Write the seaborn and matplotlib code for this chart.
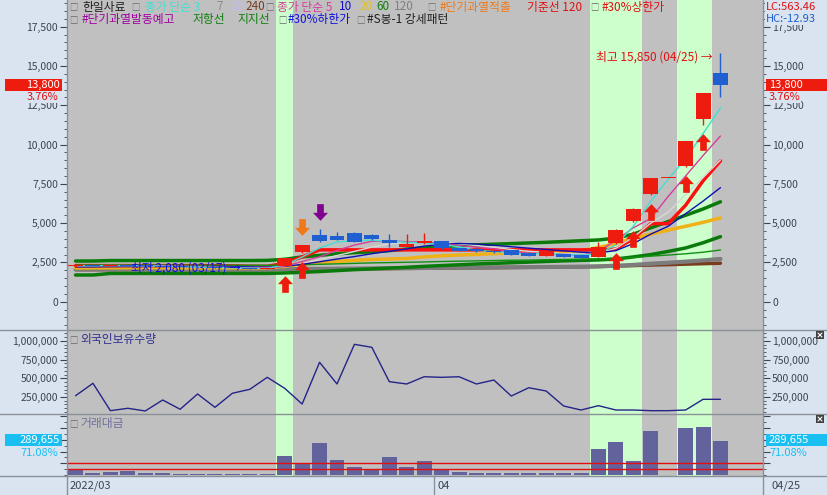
import matplotlib
matplotlib.use("Agg")
import numpy as np
import matplotlib.pyplot as plt
import matplotlib.transforms as mtransforms
from matplotlib.path import Path
from matplotlib.patches import Rectangle
from matplotlib.lines import Line2D
from matplotlib.ticker import MultipleLocator, FixedLocator, FuncFormatter
import seaborn as sns

# ---- data (한일사료, 2022/03 ~ 04/25) ----
opens = [2250, 2310, 2280, 2320, 2290, 2250, 2230, 2200, 2180, 2160, 2140, 2100,
         2270, 3180, 4240, 4180, 4390, 4245, 3930, 3500, 3720, 3860, 3400, 3380,
         3200, 3290, 3120, 2920, 3035, 2970, 2865, 3720, 5150, 6830, 7850, 8650,
         11650, 14550]
highs = [2320, 2330, 2350, 2330, 2300, 2260, 2240, 2210, 2190, 2170, 2150, 2150,
         2780, 3610, 4620, 4420, 4430, 4300, 4300, 4310, 4350, 3880, 3420, 3420,
         3250, 3300, 3150, 3300, 3050, 2980, 3820, 4600, 5950, 7850, 7850, 10200,
         13300, 15850]
lows = [2230, 2260, 2270, 2280, 2240, 2220, 2190, 2170, 2150, 2130, 2080, 2090,
        2250, 3100, 3800, 3900, 3800, 3950, 3450, 3480, 3700, 3380, 3200, 3150,
        3100, 2950, 2900, 2900, 2820, 2780, 2850, 3700, 5100, 6800, 7850, 8600,
        11250, 13050]
closes = [2300, 2280, 2320, 2290, 2250, 2230, 2200, 2180, 2160, 2140, 2100, 2140,
          2780, 3610, 3880, 3930, 3820, 3990, 3720, 3650, 3860, 3400, 3225, 3200,
          3150, 2970, 2910, 3250, 2850, 2800, 3500, 4550, 5910, 7850, 7850, 10200,
          13300, 13800]

ma3 = [2290, 2290, 2300, 2297, 2287, 2257, 2227, 2203, 2180, 2160, 2133, 2127,
       2340, 2843, 3423, 3807, 3877, 3913, 3843, 3787, 3743, 3637, 3495, 3275,
       3190, 3110, 3010, 3120, 3000, 2970, 3050, 3620, 4800, 6400, 7800, 9100,
       10700, 12330]
ma5 = [2290, 2290, 2290, 2290, 2288, 2274, 2258, 2230, 2204, 2182, 2156, 2144,
       2264, 2554, 2862, 3268, 3604, 3846, 3868, 3822, 3808, 3724, 3571, 3467,
       3367, 3189, 3091, 3094, 3016, 2952, 3200, 3900, 4700, 5300, 6700, 8000,
       9300, 10545]
ma7 = [2260, 2260, 2265, 2265, 2262, 2258, 2250, 2240, 2230, 2215, 2200, 2190,
       2240, 2430, 2680, 2940, 3200, 3480, 3680, 3800, 3840, 3770, 3680, 3580,
       3460, 3320, 3210, 3150, 3050, 3000, 3080, 3400, 4100, 5000, 5700, 6800,
       7900, 9020]
ma10 = [2210, 2218, 2230, 2239, 2244, 2247, 2247, 2245, 2241, 2235, 2215, 2201,
        2247, 2379, 2542, 2712, 2874, 3055, 3211, 3362, 3538, 3664, 3709, 3668,
        3595, 3499, 3408, 3324, 3237, 3152, 3116, 3250, 3700, 4300, 4800, 5600,
        6400, 7260]
ma20 = [2150, 2150, 2160, 2160, 2160, 2160, 2150, 2150, 2150, 2150, 2150, 2160,
        2250, 2400, 2480, 2560, 2630, 2690, 2720, 2750, 2850, 2920, 2970, 3010,
        3060, 3100, 3140, 3180, 3210, 3250, 3450, 3700, 4050, 4300, 4560, 4800,
        5050, 5330]
ma60 = [2330, 2330, 2330, 2330, 2330, 2330, 2330, 2320, 2320, 2320, 2320, 2320,
        2330, 2350, 2380, 2410, 2440, 2470, 2490, 2510, 2530, 2560, 2580, 2600,
        2620, 2640, 2650, 2670, 2690, 2700, 2720, 2760, 2820, 2900, 2970, 3050,
        3150, 3290]
ma120 = [2060, 2060, 2060, 2060, 2060, 2060, 2060, 2060, 2060, 2060, 2060, 2060,
         2070, 2080, 2090, 2100, 2110, 2120, 2130, 2140, 2150, 2160, 2170, 2170,
         2180, 2190, 2200, 2210, 2220, 2230, 2250, 2290, 2340, 2420, 2480, 2550,
         2630, 2720]
ma240 = [2040, 2040, 2040, 2040, 2040, 2040, 2040, 2040, 2040, 2040, 2040, 2040,
         2050, 2060, 2070, 2080, 2090, 2100, 2110, 2120, 2130, 2140, 2150, 2160,
         2170, 2180, 2190, 2200, 2210, 2220, 2240, 2270, 2300, 2335, 2360, 2390,
         2420, 2450]
base120 = [2300, 2300, 2300, 2300, 2300, 2300, 2300, 2300, 2300, 2280, 2260, 2250,
           2450, 2850, 3300, 3300, 3300, 3300, 3300, 3300, 3300, 3300, 3300, 3300,
           3300, 3300, 3300, 3300, 3300, 3300, 3300, 3350, 4010, 4965, 4965, 6140,
           7690, 8965]
resist = [2590, 2590, 2620, 2620, 2620, 2620, 2620, 2620, 2620, 2620, 2620, 2630,
          2700, 2850, 2950, 3050, 3120, 3180, 3250, 3350, 3420, 3500, 3570, 3620,
          3660, 3700, 3740, 3780, 3830, 3880, 3930, 4050, 4300, 4700, 5100, 5500,
          5900, 6360]
support = [1700, 1700, 1800, 1800, 1800, 1800, 1800, 1800, 1800, 1800, 1800, 1800,
           1830, 1870, 1920, 1980, 2040, 2090, 2140, 2190, 2250, 2300, 2350, 2400,
           2440, 2480, 2520, 2560, 2600, 2630, 2660, 2720, 2850, 3000, 3200, 3420,
           3750, 4140]

foreign_hold = [267000, 433000, 67000, 99000, 63000, 210000, 86000, 290000, 112000,
                300000, 353000, 513000, 366000, 156000, 714000, 424000, 954000,
                914000, 455000, 424000, 521000, 513000, 521000, 424000, 477000,
                263000, 374000, 330000, 130000, 76000, 134000, 76000, 76000, 67000,
                67000, 76000, 219000, 219000]
trade_value = [43000, 20000, 28000, 37000, 20000, 20000, 9000, 9000, 9000, 9000,
               9000, 9000, 165000, 105000, 275000, 128000, 71000, 54000, 156000,
               71000, 119000, 43000, 28000, 20000, 20000, 20000, 20000, 20000,
               20000, 20000, 222000, 281000, 119000, 375000, 0, 403000, 409000,
               289655]
trade_refs = [105000, 51000]

limit_up_bars = [12, 30, 31, 32, 35, 36]     # #30%상한가 highlight
buy_signal_bars = [12, 13, 31, 32, 33, 35, 36]
overheat_bars = [13]                          # #단기과열적출
overheat_warn_bars = [14]                     # #단기과열발동예고

# ---- style ----
sns.set_style("white")
plt.rcParams['font.family'] = ['Noto Sans CJK KR', 'DejaVu Sans']
plt.rcParams['axes.unicode_minus'] = False

SIDE_BG = '#dae4f0'
PLOT_BG = '#c0c0c0'
HILITE = '#ccffcc'
RED = '#ee1c0e'
BLUE = '#1f5fd0'
TICK = '#3c4450'
LINE = '#8a8f98'

W, H = 827, 495
fig = plt.figure(figsize=(W / 100, H / 100), dpi=100, facecolor=SIDE_BG)


def fx(x):
    return x / W


def fy(y):
    return 1 - y / H


def panel(y0, y1):
    a = fig.add_axes([fx(67), fy(y1), 696 / W, (y1 - y0) / H])
    a.set_facecolor(PLOT_BG)
    for s in a.spines.values():
        s.set_visible(False)
    return a


ax = panel(0, 330)
axf = panel(330, 414)
axv = panel(414, 476)

xs = np.arange(len(closes))
o, h, l, c = map(np.array, (opens, highs, lows, closes))

for a in (ax, axf, axv):
    for i in limit_up_bars:
        a.axvspan(i - 0.5, i + 0.5, color=HILITE, lw=0, zorder=0)

# moving averages / reference lines
lines = [
    (ma240, '#7a3c1c', 2.5), (ma120, '#7c7c7c', 3.0), (support, '#0a7a0a', 2.5),
    (resist, '#0a7a0a', 2.5), (ma20, '#f0b018', 2.5), (base120, '#ff1010', 2.5),
    (ma60, '#109010', 1.0), (ma7, '#d8d8d8', 1.0), (ma10, '#1010b0', 1.0),
    (ma5, '#d83c9c', 1.0), (ma3, '#40e0d0', 1.0),
]
for vals, col, lw in lines:
    sns.lineplot(x=xs, y=vals, color=col, linewidth=lw, ax=ax, zorder=2)

# candles
cols = np.where(c >= o, RED, BLUE)
ax.vlines(xs, l, h, colors=cols, lw=1, zorder=3)
ax.bar(xs, np.maximum(np.abs(c - o), 60), bottom=np.minimum(o, c), width=0.86,
       color=cols, lw=0, zorder=4)

# signal arrows
av = [(0, 0.5), (0.45, 0.02), (0.2, 0.02), (0.2, -0.5), (-0.2, -0.5),
      (-0.2, 0.02), (-0.45, 0.02), (0, 0.5)]
UP = Path(av, closed=True)
DOWN = Path([(x, -y) for x, y in av], closed=True)
below = mtransforms.offset_copy(ax.transData, fig=fig, x=0, y=-12.6, units='points')
above = mtransforms.offset_copy(ax.transData, fig=fig, x=0, y=12.6, units='points')
ax.scatter(xs[buy_signal_bars], l[buy_signal_bars], marker=UP, s=144, color=RED,
           linewidths=0, transform=below, zorder=5)
ax.scatter(xs[overheat_bars], h[overheat_bars], marker=DOWN, s=144, color='#f07818',
           linewidths=0, transform=above, zorder=5)
ax.scatter(xs[overheat_warn_bars], h[overheat_warn_bars], marker=DOWN, s=144,
           color='#800090', linewidths=0, transform=above, zorder=5)

imax = int(np.argmax(h))
imin = int(np.argmin(l))
ax.annotate(f'최고 {h[imax]:,} (04/25) →', xy=(imax - 0.45, h[imax]), xytext=(0, -3),
            textcoords='offset points', ha='right', va='center', color='#e01010',
            fontsize=8.5, zorder=6)
ax.annotate(f'최저 {l[imin]:,} (03/17) →', xy=(imin - 0.5, l[imin]), xytext=(0, 1),
            textcoords='offset points', ha='right', va='center', color='#1010e0',
            fontsize=8.5, zorder=6)

# foreign holdings
sns.lineplot(x=xs, y=foreign_hold, color='#242488', linewidth=1, ax=axf, zorder=3)

# trading value
sns.barplot(x=xs, y=trade_value, native_scale=True, width=0.86, color='#62629c',
            saturation=1, errorbar=None, edgecolor='none', linewidth=0, ax=axv,
            zorder=3)
for v in trade_refs:
    axv.axhline(v, color='#e01010', lw=1, zorder=4)

# axes scales
fmt = FuncFormatter(lambda v, p: f'{v:,.0f}')
ax.set_ylim(-1800, 19200)
ax.yaxis.set_major_locator(FixedLocator(np.arange(0, 17501, 2500)))
ax.yaxis.set_minor_locator(MultipleLocator(500))
axf.set_ylim(22700, 1145700)
axf.yaxis.set_major_locator(FixedLocator([250000, 500000, 750000, 1000000]))
axf.yaxis.set_minor_locator(MultipleLocator(50000))
axv.set_ylim(-8500, 519700)
axv.yaxis.set_major_locator(FixedLocator(np.arange(100000, 500001, 100000)))
axv.yaxis.set_minor_locator(MultipleLocator(50000))

for a in (ax, axf, axv):
    a.set_xlim(-0.49, 39.44)
    a.set_xlabel('')
    a.set_ylabel('')
    a.yaxis.set_major_formatter(fmt)
    a.tick_params(axis='x', which='both', bottom=False, top=False, labelbottom=False)
    a.tick_params(axis='y', which='major', left=True, right=True, labelleft=True,
                  labelright=True, length=5, width=0.8, pad=1.5, colors=TICK,
                  labelsize=7.5, direction='out')
    a.tick_params(axis='y', which='minor', left=True, right=True, length=2.5,
                  width=0.6, colors=TICK, direction='out')
axv.tick_params(axis='y', which='both', labelleft=False, labelright=False)

# frame lines across the whole figure
for y in (330, 414, 476):
    fig.add_artist(Line2D([0, 1], [fy(y), fy(y)], color=LINE, lw=1))
for x in (67, 763):
    fig.add_artist(Line2D([fx(x), fx(x)], [0, 1], color=LINE, lw=1))
fig.add_artist(Line2D([fx(434), fx(434)], [fy(476), 0], color=LINE, lw=1))


def tag(x, y, s, color, size=8.5, ha='left', bg=None):
    kw = {}
    if bg is not None:
        kw['bbox'] = dict(boxstyle='square,pad=0.05', fc=bg, ec='none')
    fig.text(fx(x), fy(y), s, color=color, fontsize=size, ha=ha, va='center',
             zorder=6, **kw)


def box(x0, x1, y0, y1, color):
    fig.add_artist(Rectangle((fx(x0), fy(y1)), (x1 - x0) / W, (y1 - y0) / H,
                             transform=fig.transFigure, fc=color, ec='none', zorder=5))


# legend rows
SQ = '#6a6a6a'
row1 = [(69, '□', SQ, 6), (82, '한일사료', '#202020', 8.5), (131, '□', SQ, 6),
        (145, '종가 단순 3', '#40e0d0', 8.5), (216, '7', '#8c8c8c', 8.5),
        (230, '20', '#c8b8f0', 8.5), (245, '240', '#7a3c1c', 8.5),
        (265, '□', SQ, 6), (277, '종가 단순 5', '#d83c9c', 8.5),
        (339, '10', '#1010c0', 8.5), (359, '20', '#e8c010', 8.5),
        (376, '60', '#108010', 8.5), (394, '120', '#808080', 8.5),
        (427, '□', SQ, 6), (440, '#단기과열적출', '#f07818', 8.5),
        (527, '기준선 120', '#e01010', 8.5), (590, '□', SQ, 6),
        (602, '#30%상한가', '#e01010', 8.5)]
row2 = [(69, '□', SQ, 6), (82, '#단기과열발동예고', '#a000a0', 8.5),
        (193, '저항선', '#108010', 8.5), (237, '지지선', '#108010', 8.5),
        (278, '□', SQ, 6), (288, '#30%하한가', '#1010e0', 8.5),
        (356, '□', SQ, 6), (367, '#S봉-1 강세패턴', '#202020', 8.5)]
for x, s, col, size in row1:
    tag(x, 7, s, col, size)
for x, s, col, size in row2:
    tag(x, 20, s, col, size)

# current price tags
for x0, x1, tx, ha in ((5, 62, 60, 'right'), (766, 827, 769, 'left')):
    box(x0, x1, 79, 91, '#ee1c0e')
    tag(tx, 85, f'{closes[-1]:,}', 'white', 8, ha)
    tag(tx - 2 if ha == 'right' else tx, 97, '3.76%', '#e01010', 8, ha, bg=SIDE_BG)
    box(x0, x1, 434, 446, '#18bff0')
    tag(tx, 440, f'{trade_value[-1]:,}', 'white', 8, ha)
    tag(tx - 2 if ha == 'right' else tx, 453, '71.08%', '#18bff0', 8, ha)

tag(766, 7, 'LC:563.46', '#e01010', 8, bg=SIDE_BG)
tag(766, 19, 'HC:-12.93', '#1f5fd0', 8, bg=SIDE_BG)

# panel titles
tag(69, 340, '□', SQ, 6)
tag(80, 340, '외국인보유수량', '#303090', 8.5)
tag(69, 424, '□', SQ, 6)
tag(80, 424, '거래대금', '#7070a0', 8.5)

# close icons (drawn as shapes)
for y in (335, 419):
    box(816, 824, y - 4, y + 4, '#404040')
    for dy0, dy1 in ((-2, 2), (2, -2)):
        fig.add_artist(Line2D([fx(818), fx(822)], [fy(y + dy0), fy(y + dy1)],
                              color='white', lw=0.8, zorder=6))

# date strip
tag(70, 486, '2022/03', TICK, 8)
tag(437, 486, '04', TICK, 8)
tag(771, 486, '04/25', TICK, 8)

fig.savefig('out.png', dpi=100, facecolor=SIDE_BG)
